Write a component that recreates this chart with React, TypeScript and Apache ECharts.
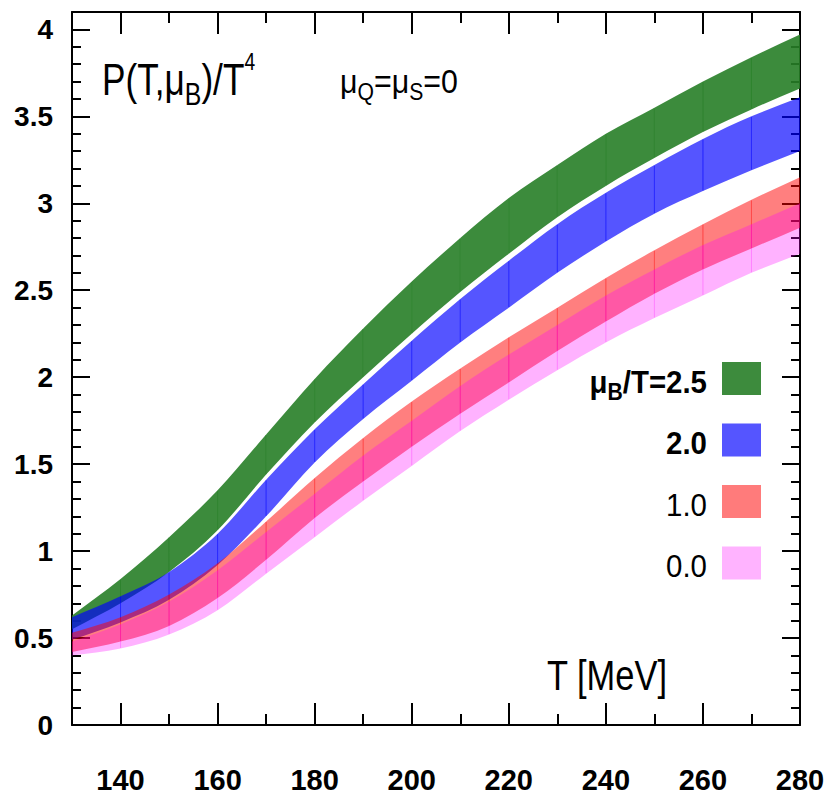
import React, { useEffect, useRef } from 'react';
import * as echarts from 'echarts';

// Temperature grid (MeV)
const T_MEV = [130, 140, 150, 160, 170, 180, 190, 200, 210, 220, 230, 240, 250, 260, 270, 280];

// P/T^4 bands (lower / upper edge) for each muB/T
const GREEN_LOW = [0.55, 0.70, 0.88, 1.12, 1.44, 1.74, 2.00, 2.25, 2.49, 2.71, 2.92, 3.10, 3.26, 3.41, 3.54, 3.66];
const GREEN_HIGH = [0.63, 0.84, 1.08, 1.35, 1.67, 1.99, 2.28, 2.55, 2.80, 3.03, 3.22, 3.40, 3.55, 3.70, 3.84, 3.97];
const BLUE_LOW = [0.49, 0.59, 0.72, 0.92, 1.20, 1.51, 1.76, 1.98, 2.20, 2.40, 2.60, 2.78, 2.94, 3.07, 3.19, 3.30];
const BLUE_HIGH = [0.62, 0.74, 0.88, 1.10, 1.41, 1.70, 1.96, 2.21, 2.45, 2.67, 2.88, 3.06, 3.22, 3.37, 3.50, 3.61];
const RED_LOW = [0.42, 0.48, 0.57, 0.73, 0.95, 1.19, 1.40, 1.60, 1.79, 1.97, 2.15, 2.32, 2.48, 2.62, 2.74, 2.86];
const RED_HIGH = [0.53, 0.62, 0.75, 0.93, 1.17, 1.42, 1.65, 1.86, 2.05, 2.23, 2.40, 2.57, 2.73, 2.88, 3.02, 3.15];
const PINK_LOW = [0.40, 0.44, 0.52, 0.66, 0.87, 1.08, 1.29, 1.49, 1.69, 1.87, 2.04, 2.20, 2.34, 2.47, 2.60, 2.71];
const PINK_HIGH = [0.48, 0.58, 0.71, 0.89, 1.11, 1.33, 1.55, 1.75, 1.95, 2.13, 2.30, 2.47, 2.62, 2.76, 2.88, 3.00];

// Axis ticks
const X_MAJOR_TICKS = [140, 160, 180, 200, 220, 240, 260, 280];
const X_MINOR_TICKS = [150, 170, 190, 210, 230, 250, 270];
const Y_MAJOR_TICKS = [0, 0.5, 1, 1.5, 2, 2.5, 3, 3.5, 4];
const Y_MINOR_TICKS = [0.1, 0.2, 0.3, 0.4, 0.6, 0.7, 0.8, 0.9, 1.1, 1.2, 1.3, 1.4, 1.6, 1.7, 1.8, 1.9, 2.1, 2.2, 2.3, 2.4, 2.6, 2.7, 2.8, 2.9, 3.1, 3.2, 3.3, 3.4, 3.6, 3.7, 3.8, 3.9, 4.1];

// Legend
const LEGEND_LABELS = ['2.5', '2.0', '1.0', '0.0'];
const LEGEND_COLORS = ['#3d8b3d', '#5555ff', '#ff7b7b', '#ffb3ff'];

const FONT = "'Liberation Sans', Arial, Helvetica, sans-serif";

function bandData(lo: number[], hi: number[]) {
  return T_MEV.slice(0, -1).map((t, i) => [t, lo[i], hi[i], T_MEV[i + 1], lo[i + 1], hi[i + 1]]);
}

function bandSeries(name: string, lo: number[], hi: number[], fill: string) {
  const n = T_MEV.length;
  return {
    type: 'custom',
    name,
    data: bandData(lo, hi),
    clip: true,
    encode: { x: [0, 3], y: [1, 2, 4, 5] },
    renderItem: (params: any, api: any) => {
      const i = params.dataIndex;
      const pt = (k: number, arr: number[]): number[] => {
        if (k < 0) {
          const p0 = api.coord([T_MEV[0], arr[0]]);
          const p1 = api.coord([T_MEV[1], arr[1]]);
          return [2 * p0[0] - p1[0], 2 * p0[1] - p1[1]];
        }
        if (k > n - 1) {
          const p0 = api.coord([T_MEV[n - 1], arr[n - 1]]);
          const p1 = api.coord([T_MEV[n - 2], arr[n - 2]]);
          return [2 * p0[0] - p1[0], 2 * p0[1] - p1[1]];
        }
        return api.coord([T_MEV[k], arr[k]]);
      };
      const ctrl = (arr: number[]) => {
        const pm = pt(i - 1, arr);
        const p0 = pt(i, arr);
        const p1 = pt(i + 1, arr);
        const p2 = pt(i + 2, arr);
        const c1 = [p0[0] + (p1[0] - pm[0]) / 6, p0[1] + (p1[1] - pm[1]) / 6];
        const c2 = [p1[0] - (p2[0] - p0[0]) / 6, p1[1] - (p2[1] - p0[1]) / 6];
        return { p0, c1, c2, p1 };
      };
      const h = ctrl(hi);
      const l = ctrl(lo);
      const f = (p: number[]) => p[0].toFixed(2) + ' ' + p[1].toFixed(2);
      const d =
        'M ' + f(l.p0) +
        ' L ' + f(h.p0) +
        ' C ' + f(h.c1) + ' ' + f(h.c2) + ' ' + f(h.p1) +
        ' L ' + f(l.p1) +
        ' C ' + f(l.c2) + ' ' + f(l.c1) + ' ' + f(l.p0) + ' Z';
      const children: any[] = [
        { type: 'path', shape: { pathData: d }, style: { fill } },
      ];
      if (i < n - 2) {
        children.push({
          type: 'line',
          shape: { x1: h.p1[0], y1: h.p1[1] + 0.5, x2: l.p1[0], y2: l.p1[1] - 0.5 },
          style: { stroke: fill, lineWidth: 1 },
        });
      }
      return { type: 'group', children };
    },
  };
}

const tickStyle = { color: '#000', width: 2 };

function xAxisDef(position: 'bottom' | 'top', major: boolean) {
  return {
    type: 'value',
    min: 130,
    max: 280,
    position,
    axisLine: { show: major, onZero: false, lineStyle: tickStyle },
    axisTick: {
      show: true,
      inside: true,
      length: major ? 22 : 11,
      customValues: major ? X_MAJOR_TICKS : X_MINOR_TICKS,
      lineStyle: tickStyle,
    },
    axisLabel: {
      show: major && position === 'bottom',
      customValues: X_MAJOR_TICKS,
      margin: 40,
      fontSize: 29,
      fontWeight: 'bold',
      fontFamily: FONT,
      color: '#000',
    },
    splitLine: { show: false },
  };
}

function yAxisDef(position: 'left' | 'right', major: boolean) {
  return {
    type: 'value',
    min: 0,
    max: 4.1,
    position,
    axisLine: { show: major, onZero: false, lineStyle: tickStyle },
    axisTick: {
      show: true,
      inside: true,
      length: major ? 18 : 9,
      customValues: major ? Y_MAJOR_TICKS : Y_MINOR_TICKS,
      lineStyle: tickStyle,
    },
    axisLabel: {
      show: major && position === 'left',
      customValues: Y_MAJOR_TICKS,
      formatter: (v: number) => String(v),
      margin: 19,
      fontSize: 28,
      fontWeight: 'bold',
      fontFamily: FONT,
      color: '#000',
    },
    splitLine: { show: false },
  };
}

export default function App() {
  const ref = useRef<HTMLDivElement>(null);
  useEffect(() => {
    if (!ref.current) return;
    const chart = echarts.init(ref.current, undefined, { renderer: 'svg' });

    const legendGraphics: any[] = [];
    LEGEND_LABELS.forEach((lab, i) => {
      const top = 362 + i * 61.5;
      legendGraphics.push({
        type: 'rect',
        shape: { x: 722, y: top, width: 39, height: 33 },
        style: { fill: LEGEND_COLORS[i] },
        z: 100,
      });
      const baseline = top + 31;
      if (i === 0) {
        legendGraphics.push({
          type: 'text',
          x: 707,
          y: baseline - 33,
          scaleX: 0.92,
          z: 100,
          style: {
            text: '{n|μ}{s|B}{n|/T=' + lab + '}',
            align: 'right',
            verticalAlign: 'top',
            textAlign: 'right',
            textVerticalAlign: 'top',
            rich: {
              n: { fontSize: 32, fontWeight: 'bold', fontFamily: FONT, lineHeight: 44, verticalAlign: 'middle', fill: '#000' },
              s: { fontSize: 23, fontWeight: 'bold', fontFamily: FONT, lineHeight: 23, verticalAlign: 'bottom', fill: '#000' },
            },
          },
        });
      } else {
        legendGraphics.push({
          type: 'text',
          x: 707,
          y: baseline - 11,
          scaleX: 0.92,
          z: 100,
          style: {
            text: lab,
            fontSize: 32,
            fontWeight: i < 2 ? 'bold' : 'normal',
            fontFamily: FONT,
            fill: '#000',
            align: 'right',
            verticalAlign: 'middle',
            textAlign: 'right',
            textVerticalAlign: 'middle',
          },
        });
      }
    });

    const option: any = {
      animation: false,
      backgroundColor: '#fff',
      grid: { left: 72, right: 31, top: 12, bottom: 76, show: false },
      xAxis: [xAxisDef('bottom', true), xAxisDef('bottom', false), xAxisDef('top', true), xAxisDef('top', false)],
      yAxis: [yAxisDef('left', true), yAxisDef('left', false), yAxisDef('right', true), yAxisDef('right', false)],
      series: [
        bandSeries('μB/T=2.5', GREEN_LOW, GREEN_HIGH, 'rgba(39,126,39,0.9)'),
        bandSeries('2.0', BLUE_LOW, BLUE_HIGH, 'rgba(0,0,255,0.667)'),
        bandSeries('1.0', RED_LOW, RED_HIGH, 'rgba(255,0,0,0.5)'),
        bandSeries('0.0', PINK_LOW, PINK_HIGH, 'rgba(255,0,255,0.3)'),
      ],
      graphic: [
        {
          type: 'text',
          x: 102,
          y: 50,
          scaleX: 0.8,
          z: 100,
          style: {
            text: '{n|P(T,μ}{sub|B}{n|)/T}{sup|4}',
            align: 'left',
            verticalAlign: 'top',
            textAlign: 'left',
            textVerticalAlign: 'top',
            rich: {
              n: { fontSize: 44, fontFamily: FONT, lineHeight: 60, verticalAlign: 'middle', fill: '#000' },
              sub: { fontSize: 31, fontFamily: FONT, lineHeight: 31, verticalAlign: 'bottom', fill: '#000' },
              sup: { fontSize: 24, fontFamily: FONT, lineHeight: 40, verticalAlign: 'top', fill: '#000' },
            },
          },
        },
        {
          type: 'text',
          x: 340,
          y: 60,
          scaleX: 0.92,
          z: 100,
          style: {
            text: '{n|μ}{sub|Q}{n|=μ}{sub|S}{n|=0}',
            align: 'left',
            verticalAlign: 'top',
            textAlign: 'left',
            textVerticalAlign: 'top',
            rich: {
              n: { fontSize: 33, fontFamily: FONT, lineHeight: 44, verticalAlign: 'middle', fill: '#000' },
              sub: { fontSize: 23, fontFamily: FONT, lineHeight: 23, verticalAlign: 'bottom', fill: '#000' },
            },
          },
        },
        {
          type: 'text',
          x: 607,
          y: 675,
          scaleX: 0.82,
          z: 100,
          style: {
            text: 'T [MeV]',
            fontSize: 42,
            fontFamily: FONT,
            fill: '#000',
            align: 'center',
            verticalAlign: 'middle',
            textAlign: 'center',
            textVerticalAlign: 'middle',
          },
        },
        ...legendGraphics,
      ],
    };
    chart.setOption(option);
    return () => chart.dispose();
  }, []);
  return (
    <div
      ref={ref}
      style={{ position: 'fixed', left: 0, top: 0, width: 831, height: 801, background: '#fff' }}
    />
  );
}
